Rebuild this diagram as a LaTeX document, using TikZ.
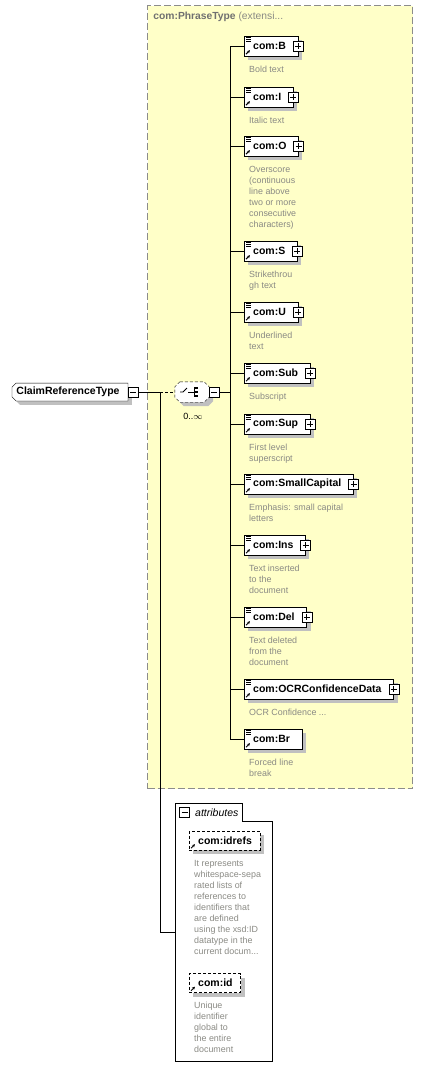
\documentclass[tikz,border=0pt]{standalone}
\usepackage{fontspec}
\setmainfont{Liberation Sans}
\usetikzlibrary{shadows,arrows.meta,backgrounds}
\definecolor{phrasefill}{HTML}{FFFFC8}
\definecolor{phraseline}{HTML}{8C8C8C}
\definecolor{titlegray}{HTML}{707070}
\definecolor{descgray}{HTML}{8A8A84}
\definecolor{shadowgray}{HTML}{C0C0C0}

\begin{document}
\begin{tikzpicture}[x=1pt, y=-1pt, line width=0.9pt, font=\fontsize{10.5}{12}\selectfont]
    \tikzstyle{boxshadow}=[drop shadow={shadow xshift=4pt, shadow yshift=-4pt, fill=shadowgray, opacity=1}]
    \tikzstyle{xsdbox}=[draw=black, fill=white, anchor=west, inner xsep=0pt, inner ysep=0pt, font=\fontsize{10.5}{12}\selectfont\bfseries, execute at begin node=\hspace*{9pt}, boxshadow]
    \tikzstyle{elembox}=[xsdbox, minimum height=20pt, execute at end node=\hspace*{12pt}]
    \tikzstyle{attrbox}=[xsdbox, dash pattern=on 3pt off 2pt, minimum height=19pt, execute at end node=\hspace*{8pt}]
    \tikzstyle{crtbox}=[anchor=west, minimum height=17pt, inner xsep=0pt, inner ysep=0pt, font=\fontsize{10.5}{12}\selectfont\bfseries, execute at begin node=\hspace*{4pt}, execute at end node=\hspace*{8pt}]
    \tikzstyle{plusbox}=[draw=black, fill=white, minimum size=10pt, inner sep=0pt, path picture={\draw[line width=0.8pt] ([xshift=2pt]path picture bounding box.west) -- ([xshift=-2pt]path picture bounding box.east); \draw[line width=0.8pt] ([yshift=-2pt]path picture bounding box.north) -- ([yshift=2pt]path picture bounding box.south);}]
    \tikzstyle{minusbox}=[draw=black, fill=white, minimum size=10pt, inner sep=0pt, path picture={\draw[line width=0.8pt] ([xshift=2pt]path picture bounding box.west) -- ([xshift=-2pt]path picture bounding box.east);}]
    \tikzstyle{desctext}=[anchor=north west, inner sep=0pt, align=left, text=descgray, font=\fontsize{8.9}{11}\selectfont]
    \tikzstyle{dashline}=[dash pattern=on 3pt off 2pt]
    \tikzstyle{refarrow}=[-{Stealth[length=3pt, width=3pt]}, line width=1pt]

    \useasboundingbox (0,0) rectangle (423,1079);

    \node[draw=phraseline, fill=phrasefill, line width=1.2pt, dash pattern=on 7pt off 3pt, minimum width=265pt, minimum height=783pt, anchor=north west, inner sep=0pt] (phrase) at (147,5) {};
    \node[anchor=west, inner sep=0pt, text=titlegray, font=\fontsize{10.3}{12}\selectfont] (phrasetitle) at (153,17) {\textbf{com:PhraseType} {\color{descgray}(extensi...}};

    \node[crtbox] (crt) at (12,392) {ClaimReferenceType};
    \begin{pgfonlayer}{background}
        \draw[fill=white, boxshadow] ([xshift=4pt]crt.north west) -- (crt.north east) -- (crt.south east) -- ([xshift=4pt]crt.south west) -- ([yshift=4pt]crt.south west) -- ([yshift=-4pt]crt.north west) -- cycle;
    \end{pgfonlayer}
    \node[minusbox, anchor=west] (crtm) at (crt.east) {};

    \node[minimum width=34pt, minimum height=20pt, inner sep=0pt] (seq) at (192,392) {};
    \draw[dashline, fill=white, boxshadow] ([xshift=5pt]seq.north west) -- ([xshift=-5pt]seq.north east) -- ([yshift=-5pt]seq.north east) -- ([yshift=5pt]seq.south east) -- ([xshift=-5pt]seq.south east) -- ([xshift=5pt]seq.south west) -- ([yshift=5pt]seq.south west) -- ([yshift=-5pt]seq.north west) -- cycle;
    \begin{scope}[shift={(seq.center)}, line width=0.8pt]
        \draw (-12,0) -- (-9,0) -- (-5,-4);
        \draw (-4,0) -- (2,0);
        \draw (2,-5) -- (2,5);
        \foreach \k in {-4,0,4}
            \fill (3,\k-1.2) rectangle (6,\k+1.2);
    \end{scope}
    \node[minusbox, anchor=west] (seqm) at (seq.east) {};
    \node[font=\fontsize{9}{10}\selectfont] (seqcard) at (193,416) {0..$\infty$};

    \coordinate (split) at (160,392);
    \coordinate (attrin) at (175,932);
    \draw (crtm.east) -- (split);
    \draw[dashline] (split) -- (seq.west);
    \draw (split) |- (attrin);

    \foreach \nm/\lbl/\y/\txt in {
        B/com:B/46/{Bold text},
        I/com:I/97/{Italic text},
        O/com:O/146/{Overscore\\(continuous\\line above\\two or more\\consecutive\\characters)},
        S/com:S/251/{Strikethrou\\gh text},
        U/com:U/312/{Underlined\\text},
        Sub/com:Sub/373/{Subscript},
        Sup/com:Sup/424/{First level\\superscript},
        SmallCapital/com:SmallCapital/484/{Emphasis: small capital\\letters},
        Ins/com:Ins/545/{Text inserted\\to the\\document},
        Del/com:Del/617/{Text deleted\\from the\\document},
        OCR/com:OCRConfidenceData/689/{OCR Confidence ...},
        Br/com:Br/739/{Forced line\\break}} {
        \node[elembox] (el\nm) at (244,\y) {\lbl};
        \draw (seqm.east) -- ++(11,0) |- (el\nm.west);
        \foreach \k in {2,4,6}
            \draw[line width=0.8pt] ([shift={(2,\k)}]el\nm.north west) -- +(5,0);
        \draw[refarrow] ([shift={(2,-2)}]el\nm.south west) -- +(4,-4);
        \node[desctext] (d\nm) at ([shift={(5,9.5)}]el\nm.south west) {\txt};
    }
    \foreach \nm in {B,I,O,S,U,Sub,Sup,SmallCapital,Ins,Del,OCR}
        \node[plusbox] (pl\nm) at (el\nm.east) {};

    \draw (175,803) -- (242,803) -- (242,821) -- (272,821) -- (272,1061) -- (175,1061) -- cycle;
    \node[minusbox] (attrm) at (184.5,812.5) {};
    \node[anchor=west, inner sep=0pt, font=\fontsize{10.5}{12}\selectfont\itshape] (attrlbl) at (195,813) {attributes};

    \foreach \nm/\lbl/\y/\txt in {
        idrefs/com:idrefs/840.5/{It represents\\whitespace-sepa\\rated lists of\\references to\\identifiers that\\are defined\\using the xsd:ID\\datatype in the\\current docum...},
        id/com:id/983/{Unique\\identifier\\global to\\the entire\\document}} {
        \node[attrbox] (at\nm) at (189,\y) {\lbl};
        \draw[refarrow] ([shift={(2,-2)}]at\nm.south west) -- +(4,-4);
        \node[desctext] (d\nm) at ([shift={(5,9.5)}]at\nm.south west) {\txt};
    }
\end{tikzpicture}
\end{document}
